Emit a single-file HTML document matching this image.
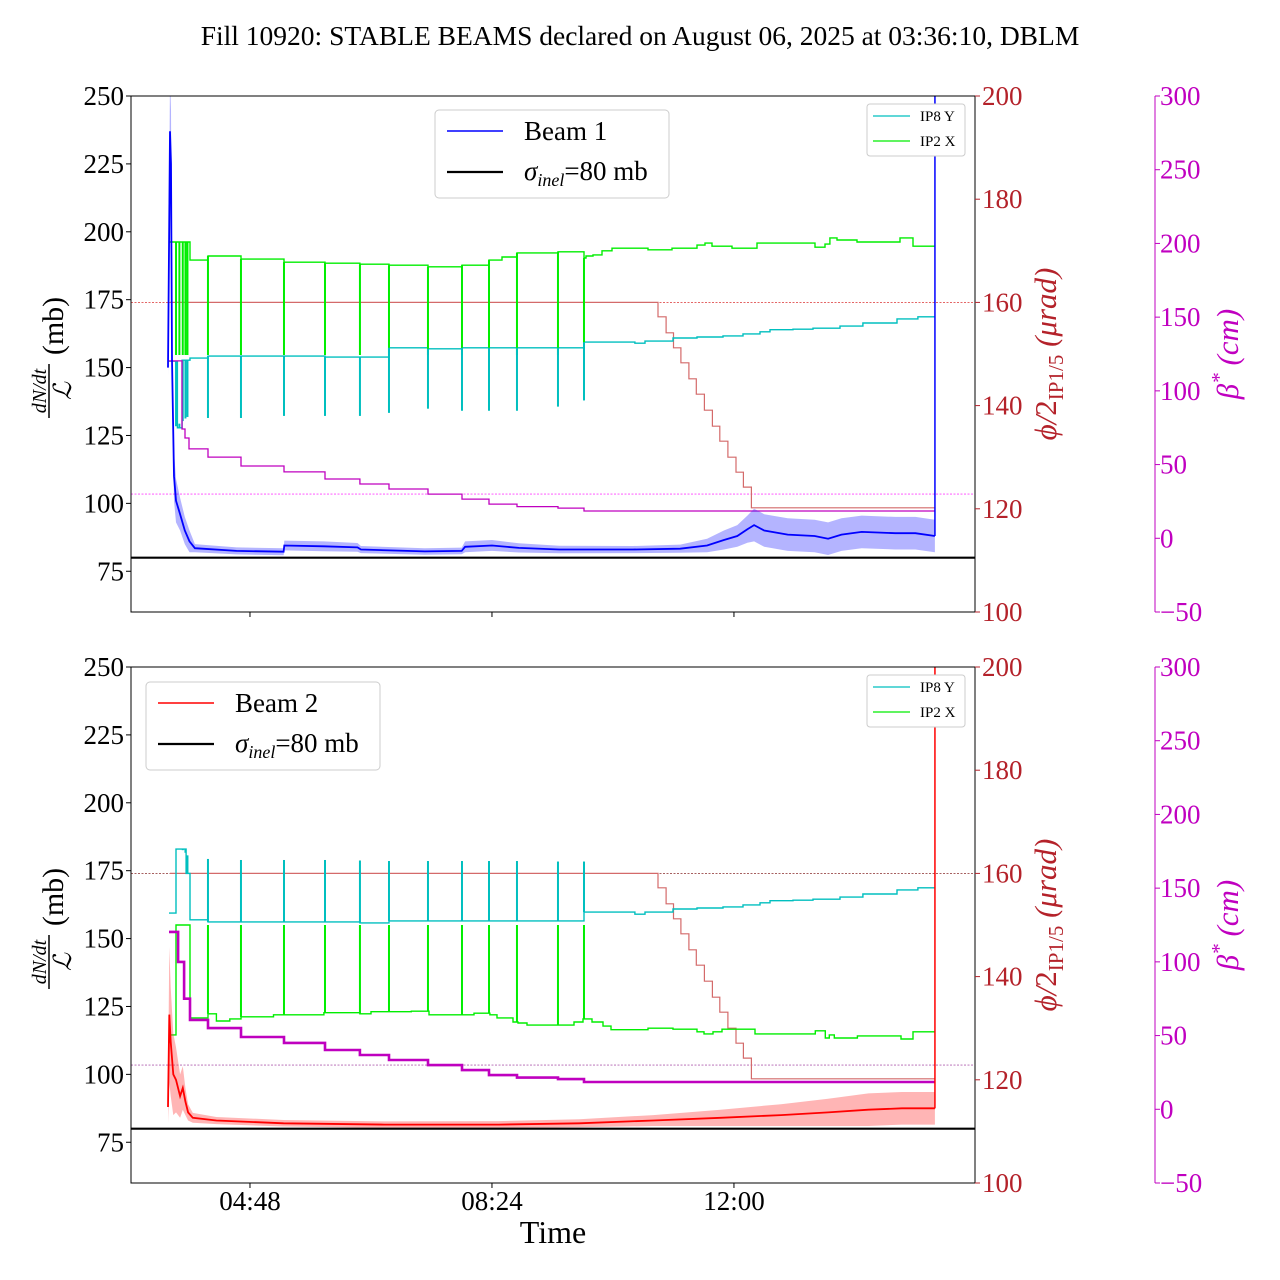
<!DOCTYPE html>
<html><head><meta charset="utf-8"><style>
html,body{margin:0;padding:0;background:#fff;}
svg{display:block;font-family:"Liberation Serif",serif;}
</style></head><body>
<svg id="chart" width="1280" height="1280" viewBox="0 0 1280 1280" xmlns="http://www.w3.org/2000/svg">
<text x="640" y="45" font-size="27.5" text-anchor="middle">Fill 10920: STABLE BEAMS declared on August 06, 2025 at 03:36:10, DBLM</text>
</svg>
<script>
// ---- data (time in decimal hours) ----
const T_END = 14.99;
const tickTimes = [4.8, 8.4, 12.0];
const tickTimeLabels = ["04:48", "08:24", "12:00"];
const leftTicks = [75, 100, 125, 150, 175, 200, 225, 250];
const redTicks = [100, 120, 140, 160, 180, 200];
const magTicks = [-50, 0, 50, 100, 150, 200, 250, 300];

const spikeTimes = [3.70, 3.75, 3.80, 3.84, 3.87, 4.175, 4.666, 5.306, 5.916, 6.436, 6.868, 7.448, 7.954, 8.356, 8.772, 9.382, 9.769];
const spikeGreenTop = [149.8, 149.8, 149.8, 149.8, 149.8, 149.8, 149.8, 149.8, 149.8, 149.8, 149.8, 149.8, 149.8, 149.8, 149.8, 149.8, 149.8];
const spikeCyanTop = [136, 136.5, 137, 137.5, 137.8, 137.6, 137.6, 138, 138, 138, 138.6, 139.4, 139, 139, 139, 139.8, 141];
const spikeGreenBot = [150, 150, 150, 150, 150, 150, 150, 150, 150, 150, 150, 150, 150, 150, 150, 150, 150];
const spikeCyanBot = [164.7, 164.7, 164.5, 164, 163.5, 162.8, 162.6, 162.6, 162.6, 162.5, 162.4, 162.4, 162.4, 162.4, 162.4, 162.3, 162.3];

const greenTopT = [3.595, 3.907, 4.175, 4.666, 5.306, 5.916, 6.436, 6.868, 7.448, 7.954, 8.356, 8.55, 8.772, 9.382, 9.769, 9.799, 9.903, 10.037, 10.185, 10.721, 11.078, 11.450, 11.569, 11.673, 11.971, 12.343, 13.205, 13.354, 13.428, 13.533, 13.830, 14.470, 14.663];
const greenTopV = [171.7, 168.2, 169.0, 168.4, 167.8, 167.6, 167.4, 167.2, 166.9, 167.2, 168.2, 168.8, 169.6, 169.8, 168.6, 169.0, 169.2, 170.0, 170.5, 170.2, 170.5, 171.1, 171.5, 170.9, 170.5, 171.5, 170.7, 171.3, 172.5, 172.1, 171.7, 172.5, 170.9];

const cyanTopT = [3.595, 3.72, 3.79, 3.907, 4.175, 5.916, 6.868, 7.448, 7.954, 9.769, 10.527, 10.676, 11.093, 11.450, 11.837, 12.134, 12.387, 12.536, 12.878, 13.176, 13.577, 13.919, 14.425, 14.737];
const cyanTopV = [148.6, 135.7, 148.8, 149.2, 149.6, 149.4, 151.2, 151.0, 151.2, 152.3, 152.1, 152.5, 153.1, 153.3, 153.5, 153.9, 154.3, 154.7, 154.8, 155.0, 155.4, 156.0, 156.8, 157.2];

const greenBotT = [3.595, 3.70, 3.907, 4.175, 4.30, 4.50, 4.666, 5.15, 5.9, 6.436, 6.6, 7.2, 7.463, 8.132, 8.370, 8.475, 8.713, 8.787, 8.921, 9.620, 9.754, 9.888, 10.052, 10.171, 10.721, 11.093, 11.450, 11.554, 11.688, 11.822, 12.313, 13.210, 13.359, 13.419, 13.493, 13.836, 14.485, 14.663];
const greenBotV = [128.7, 150.0, 132.0, 132.8, 131.4, 131.8, 132.2, 132.6, 133.0, 132.8, 133.2, 133.3, 132.6, 132.9, 132.6, 132.0, 131.2, 131.0, 130.6, 131.2, 131.8, 131.2, 130.4, 129.7, 130.0, 129.8, 129.3, 128.9, 129.3, 129.8, 128.9, 129.5, 128.1, 128.7, 128.1, 128.5, 127.9, 129.3];

const cyanBotT = [3.595, 3.70, 3.85, 3.907, 4.175, 6.436, 6.868, 9.769, 10.527, 10.676, 11.093, 11.450, 11.837, 12.134, 12.387, 12.536, 12.878, 13.176, 13.577, 13.919, 14.425, 14.737];
const cyanBotV = [152.3, 164.7, 160.0, 151.0, 150.6, 150.4, 150.8, 152.5, 152.1, 152.5, 153.1, 153.3, 153.5, 153.9, 154.3, 154.7, 154.8, 155.0, 155.4, 156.0, 156.8, 157.2];

const phiT = [3.61, 10.87, 10.99, 11.10, 11.21, 11.33, 11.44, 11.56, 11.68, 11.79, 11.91, 12.03, 12.14, 12.26];
const phiV = [160, 157.2, 154.1, 151.2, 148.3, 145.2, 142.2, 139.1, 136.0, 133.1, 130.0, 127.1, 124.2, 120.2];

const betaTopT = [3.595, 3.788, 3.833, 3.893, 4.175, 4.666, 5.306, 5.916, 6.436, 6.868, 7.448, 7.954, 8.356, 8.772, 9.382, 9.769];
const betaTopV = [120.3, 74.1, 68, 60.6, 55.1, 49, 45, 40.2, 36.8, 33.4, 30, 26.6, 23.2, 21.5, 20.5, 18.5];
const betaBotT = [3.595, 3.73, 3.82, 3.907, 4.175, 4.666, 5.306, 5.916, 6.436, 6.868, 7.448, 7.954, 8.356, 8.772, 9.382, 9.769];
const betaBotV = [120.3, 100, 75, 60.6, 55.1, 49, 45, 40.2, 36.8, 33.4, 30, 26.6, 23.2, 21.5, 20.5, 18.5];

const b1T = [3.58, 3.61, 3.625, 3.64, 3.67, 3.70, 3.76, 3.83, 3.90, 3.98, 4.6, 5.3, 5.31, 5.9, 6.4, 6.45, 7.4, 7.95, 8.0, 8.4, 8.8, 9.4, 10.5, 11.2, 11.6, 11.85, 12.05, 12.2, 12.3, 12.45, 12.8, 13.2, 13.4, 13.6, 13.9, 14.4, 14.7, 14.99];
const b1V = [150, 237, 225, 153, 110, 101, 96, 90, 86, 83.5, 82.5, 82.2, 84.5, 84.2, 83.8, 83, 82.3, 82.5, 84, 84.5, 83.6, 83, 83, 83.3, 84.5, 86.5, 88, 90.5, 92, 90, 88.5, 88, 87, 88.5, 89.5, 89, 89, 88];
const b1Err = [3, 20, 20, 12, 9, 8, 6, 5, 4, 1.5, 1.3, 1.3, 1.8, 1.8, 1.6, 1.3, 1.2, 1.2, 2, 2, 1.7, 1.4, 1.3, 1.5, 2.5, 3.5, 4, 5, 6, 6, 6, 6, 6, 6, 6, 6, 6, 6];

const b2T = [3.58, 3.60, 3.62, 3.66, 3.70, 3.76, 3.80, 3.84, 3.88, 3.95, 4.3, 5.3, 6.8, 8.5, 9.7, 10.8, 11.8, 12.7, 13.4, 14.0, 14.5, 14.99];
const b2V = [88, 122, 112, 100, 98, 92, 95, 90, 86, 84, 83, 82, 81.5, 81.5, 82, 83, 84, 85, 86, 87, 87.5, 87.5];
const b2Err = [6, 25, 20, 15, 12, 8, 8, 5, 3, 1.8, 1.3, 1.2, 1.2, 1.3, 1.5, 2, 3, 4, 5, 6, 6, 6];

const SIGMA = 80, PHI_REF = 160, BETA_REF = 30;

// ---- axes ----
const NS = "http://www.w3.org/2000/svg";
const svg = document.getElementById('chart');
const X0 = 131, X1 = 975, T0 = 3.03, T1 = 15.586;
const TF = 27;
function xS(t){ return X0 + (t - T0) / (T1 - T0) * (X1 - X0); }
function mk(tag, attrs, parent){ const e = document.createElementNS(NS, tag); for (const k in attrs) e.setAttribute(k, attrs[k]); (parent || svg).appendChild(e); return e; }

function stepPath(ts, vs, yf, tEnd){
  let d = 'M' + xS(ts[0]).toFixed(1) + ',' + yf(vs[0]).toFixed(1);
  for (let i = 1; i < ts.length; i++) d += 'H' + xS(ts[i]).toFixed(1) + 'V' + yf(vs[i]).toFixed(1);
  d += 'H' + xS(tEnd).toFixed(1);
  return d;
}
function linePath(ts, vs, yf){
  return ts.map((t, i) => (i ? 'L' : 'M') + xS(t).toFixed(1) + ',' + yf(vs[i]).toFixed(1)).join('');
}

function panel(top, cfg){
  const H = 516, bot = top + H;
  const yL = v => top + (250 - v) / 190 * H;
  const yR = v => top + (200 - v) / 100 * H;
  const yM = v => top + (300 - v) / 350 * H;
  const g = mk('g', {});
  
  
  const cid = 'clip' + top;
  const cp = mk('clipPath', {id: cid}, g);
  mk('rect', {x: X0, y: top, width: X1 - X0, height: H}, cp);
  const pg = mk('g', {'clip-path': 'url(#' + cid + ')'}, g);

  let e = mk('line', {x1: X0, x2: X1, y1: yR(PHI_REF), y2: yR(PHI_REF), stroke: cfg.phiRefColor, 'stroke-width': 0.9, 'stroke-dasharray': '2,1.5'}, pg);
  
  
  e = mk('line', {x1: X0, x2: X1, y1: yM(BETA_REF), y2: yM(BETA_REF), stroke: cfg.betaRefColor, 'stroke-width': 0.9, 'stroke-dasharray': '2,1.5'}, pg);
  
  

  e = mk('path', {d: stepPath(phiT, phiV, yR, T_END), fill: 'none', stroke: '#d46a6a', 'stroke-width': 1.2}, pg);
  
  

  e = mk('path', {d: stepPath(cfg.gT, cfg.gV, yR, T_END), fill: 'none', stroke: '#00ee00', 'stroke-width': 1.4}, pg);
  
  
  e = mk('path', {d: stepPath(cfg.cT, cfg.cV, yR, T_END), fill: 'none', stroke: '#00bfbf', 'stroke-width': 1.4}, pg);
  
  
  spikeTimes.forEach((ts, i) => {
    const gb = cfg.gV[Math.max(0, cfg.gT.filter(t => t <= ts).length - 1)];
    const cb = cfg.cV[Math.max(0, cfg.cT.filter(t => t <= ts).length - 1)];
    let s = mk('line', {x1: xS(ts), x2: xS(ts), y1: yR(gb), y2: yR(cfg.sg[i]), stroke: '#00ee00', 'stroke-width': 2}, pg);
    
    
    s = mk('line', {x1: xS(ts), x2: xS(ts), y1: yR(cb), y2: yR(cfg.sc[i]), stroke: '#00bfbf', 'stroke-width': 2}, pg);
    
    
  });

  e = mk('path', {d: stepPath(cfg.bT, cfg.bV, yM, T_END), fill: 'none', stroke: '#bf00bf', 'stroke-width': cfg.betaW}, pg);
  
  

  const up = cfg.mT.map((t, i) => xS(t).toFixed(1) + ',' + yL(cfg.mV[i] + cfg.mE[i]).toFixed(1));
  const dn = cfg.mT.map((t, i) => xS(t).toFixed(1) + ',' + yL(cfg.mV[i] - cfg.mE[i]).toFixed(1)).reverse();
  e = mk('polygon', {points: up.concat(dn).join(' '), fill: cfg.band, stroke: 'none'}, pg);
  
  
  e = mk('path', {d: linePath(cfg.mT, cfg.mV, yL), fill: 'none', stroke: cfg.col, 'stroke-width': 1.8}, pg);
  
  
  e = mk('line', {x1: xS(T_END), x2: xS(T_END), y1: yL(cfg.mV[cfg.mV.length - 1]), y2: top, stroke: cfg.col, 'stroke-width': 1.5}, pg);
  
  

  e = mk('line', {x1: X0, x2: X1, y1: yL(SIGMA), y2: yL(SIGMA), stroke: '#000', 'stroke-width': 2.2}, pg);
  
  

  e = mk('rect', {x: X0, y: top, width: X1 - X0, height: H, fill: 'none', stroke: '#000', 'stroke-width': 1}, g);
  
  

  leftTicks.forEach(v => {
    mk('line', {x1: X0 - 5, x2: X0, y1: yL(v), y2: yL(v), stroke: '#000'}, g);
    const t = mk('text', {x: X0 - 7, y: yL(v) + 9, 'font-size': TF, 'text-anchor': 'end'}, g);
    t.textContent = v;
    
    
  });
  const RC = '#b4222a';
  redTicks.forEach(v => {
    mk('line', {x1: X1, x2: X1 + 5, y1: yR(v), y2: yR(v), stroke: RC}, g);
    const t = mk('text', {x: X1 + 7, y: yR(v) + 9, 'font-size': TF, fill: RC}, g);
    t.textContent = v;
    
    
  });
  const MC = '#c000c0', MX = 1155;
  mk('line', {x1: MX, x2: MX, y1: top, y2: bot, stroke: MC, 'stroke-width': 1}, g);
  magTicks.forEach(v => {
    mk('line', {x1: MX, x2: MX + 5, y1: yM(v), y2: yM(v), stroke: MC}, g);
    const t = mk('text', {x: MX + 5, y: yM(v) + 9, 'font-size': TF, fill: MC}, g);
    t.textContent = v < 0 ? '\u2212' + Math.abs(v) : v;
    
    
  });
  tickTimes.forEach((tt, i) => {
    mk('line', {x1: xS(tt), x2: xS(tt), y1: bot, y2: bot + 5, stroke: '#000'}, g);
    if (cfg.labels){
      const t = mk('text', {x: xS(tt), y: bot + 27, 'font-size': TF, 'text-anchor': 'middle'}, g);
      t.textContent = tickTimeLabels[i];
      
      
    }
  });

  const cy = top + 258;
  const lt = mk('g', {transform: 'translate(55,' + (cy) + ') rotate(-90)'}, g);
  
  
  let tx = mk('text', {x: -37, y: -9, 'font-size': 20, 'font-style': 'italic', 'text-anchor': 'middle'}, lt); tx.textContent = 'dN/dt';
  mk('line', {x1: -64, x2: -10, y1: -6, y2: -6, stroke: '#000', 'stroke-width': 1.5}, lt);
  tx = mk('text', {x: -37, y: 16, 'font-size': 25, 'font-style': 'italic', 'text-anchor': 'middle'}, lt); tx.textContent = '\u2112';
  tx = mk('text', {x: 28, y: 8, 'font-size': 30, 'text-anchor': 'middle'}, lt); tx.textContent = '(mb)';

  const rt = mk('text', {transform: 'translate(1056,' + cy + ') rotate(-90)', 'font-size': 31, fill: RC, 'text-anchor': 'middle'}, g);
  
  
  rt.innerHTML = '<tspan font-style="italic">\u03d5/</tspan>2<tspan font-size="21" dy="7">IP1/5</tspan><tspan dy="-7" font-style="italic"> (\u03bcrad)</tspan>';
  const mt = mk('text', {transform: 'translate(1238,' + cy + ') rotate(-90)', 'font-size': 31, fill: MC, 'text-anchor': 'middle', 'font-style': 'italic'}, g);
  
  
  mt.innerHTML = '\u03b2<tspan font-size="21" dy="-12">*</tspan><tspan dy="12"> (cm)</tspan>';

  const L = cfg.leg;
  const lg = mk('g', {}, g);
  
  
  mk('rect', {x: L[0], y: top + L[1], width: 234, height: 88, rx: 4, fill: '#fff', stroke: '#ccc', 'stroke-width': 1}, lg);
  let le = mk('line', {x1: L[0] + 12, x2: L[0] + 68, y1: top + L[1] + 21, y2: top + L[1] + 21, stroke: cfg.col, 'stroke-width': 1.5}, lg);
  
  
  tx = mk('text', {x: L[0] + 89, y: top + L[1] + 30, 'font-size': 27}, lg); tx.textContent = cfg.beamName;
  le = mk('line', {x1: L[0] + 12, x2: L[0] + 68, y1: top + L[1] + 62, y2: top + L[1] + 62, stroke: '#000', 'stroke-width': 2.2}, lg);
  
  
  tx = mk('text', {x: L[0] + 89, y: top + L[1] + 70, 'font-size': 27}, lg);
  tx.innerHTML = '<tspan font-style="italic">\u03c3</tspan><tspan font-size="18" dy="6" font-style="italic">inel</tspan><tspan dy="-6">=80 mb</tspan>';

  const sg = mk('g', {}, g);
  
  
  mk('rect', {x: 867, y: top + 8, width: 98, height: 52, rx: 3, fill: '#fff', stroke: '#ccc'}, sg);
  mk('line', {x1: 873, x2: 910, y1: top + 20, y2: top + 20, stroke: '#00bfbf', 'stroke-width': 1.2}, sg);
  tx = mk('text', {x: 920, y: top + 25, 'font-size': 15}, sg); tx.textContent = 'IP8 Y';
  mk('line', {x1: 873, x2: 910, y1: top + 45, y2: top + 45, stroke: '#00ee00', 'stroke-width': 1.2}, sg);
  tx = mk('text', {x: 920, y: top + 50, 'font-size': 15}, sg); tx.textContent = 'IP2 X';
}

panel(96, {name: 'beam1-panel', col: '#0000ff', band: 'rgba(40,40,255,0.35)', beamName: 'Beam 1',
  mT: b1T, mV: b1V, mE: b1Err, gT: greenTopT, gV: greenTopV, cT: cyanTopT, cV: cyanTopV,
  sg: spikeGreenTop, sc: spikeCyanTop, bT: betaTopT, bV: betaTopV, betaW: 1.3,
  phiRefColor: '#e05050', betaRefColor: '#ff40ff', leg: [435, 14], labels: false});
panel(667, {name: 'beam2-panel', col: '#ff0000', band: 'rgba(255,60,60,0.38)', beamName: 'Beam 2',
  mT: b2T, mV: b2V, mE: b2Err, gT: greenBotT, gV: greenBotV, cT: cyanBotT, cV: cyanBotV,
  sg: spikeGreenBot, sc: spikeCyanBot, bT: betaBotT, bV: betaBotV, betaW: 2.6,
  phiRefColor: '#9a4a4a', betaRefColor: '#b060b0', leg: [146, 15], labels: true});

const xt = mk('text', {x: 553, y: 1243, 'font-size': 32, 'text-anchor': 'middle'});
xt.textContent = 'Time';


</script>
</body></html>
